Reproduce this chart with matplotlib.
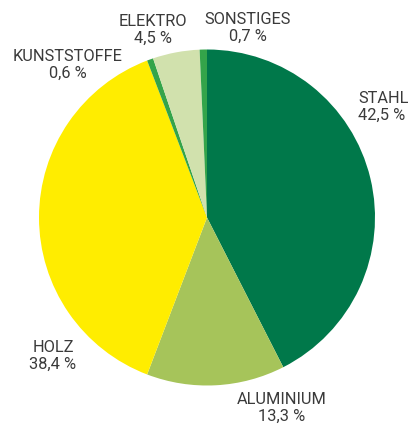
import matplotlib
matplotlib.use("Agg")
import matplotlib.pyplot as plt

categories = ["STAHL", "ALUMINIUM", "HOLZ", "KUNSTSTOFFE", "ELEKTRO", "SONSTIGES"]
values = [42.5, 13.3, 38.4, 0.6, 4.5, 0.7]
value_labels = ["42,5 %", "13,3 %", "38,4 %", "0,6 %", "4,5 %", "0,7 %"]
colors = ["#00784a", "#a6c45a", "#ffed00", "#34a44a", "#d1e1ad", "#34a44a"]

W, H = 408, 427
fig = plt.figure(figsize=(W / 100, H / 100), dpi=100)
cx, cy, r = 207, 218.5, 168
ax = fig.add_axes([(cx - r) / W, (H - cy - r) / H, 2 * r / W, 2 * r / H])
ax.pie(values, colors=colors, startangle=90, counterclock=False, radius=1,
       wedgeprops=dict(linewidth=0))
ax.set_xlim(-1, 1)
ax.set_ylim(-1, 1)
ax.set_aspect("equal")
ax.axis("off")

# label anchor positions in pixels (centre x, y of block), alignment
label_pos = {
    "STAHL": (358, 107, "left"),
    "ALUMINIUM": (282, 408, "center"),
    "HOLZ": (53, 356, "center"),
    "KUNSTSTOFFE": (68, 65, "center"),
    "ELEKTRO": (153, 30, "center"),
    "SONSTIGES": (248, 28, "center"),
}
for cat, lab in zip(categories, value_labels):
    px, py, ha = label_pos[cat]
    ax.text((px - cx) / r, (cy - py) / r, f"{cat}\n{lab}", ha=ha, va="center",
            fontsize=11.8, color="#3a3a3a", family="Roboto", linespacing=1.15,
            clip_on=False)

fig.savefig("out.png", dpi=100)
